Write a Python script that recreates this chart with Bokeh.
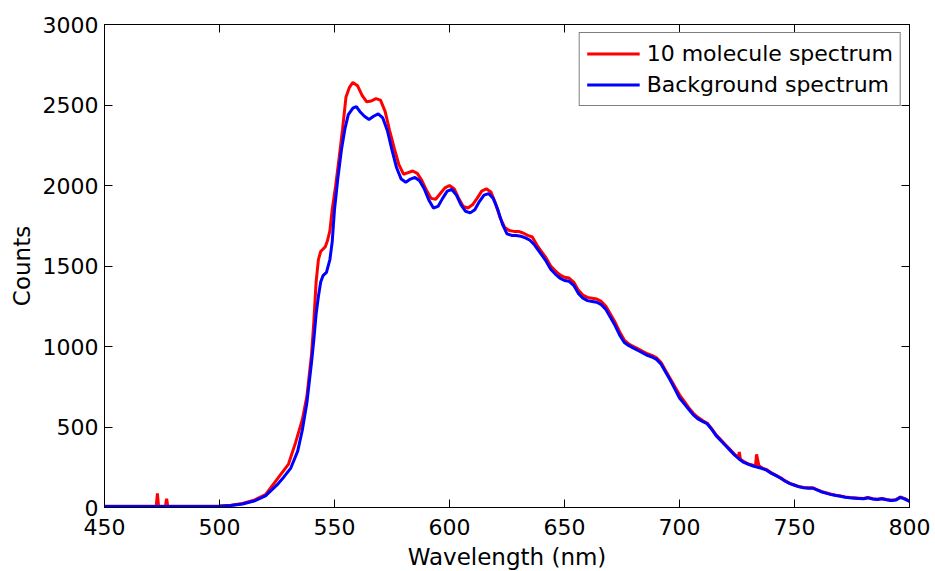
from bokeh.plotting import figure
from bokeh.models import Range1d, LinearAxis, FixedTicker, Legend, LegendItem, CustomJSTickFormatter
from bokeh.embed import file_html
from bokeh.resources import INLINE

# ---- data ----
wl_mol = [450, 460, 470, 472.5, 473, 473.5, 476.5, 477, 477.5, 490, 500, 505, 510, 515, 520, 525, 530,
          533, 536, 538, 540, 541, 542, 543, 544, 546, 547, 548, 549, 550.5, 552, 553.5, 555, 556.5,
          558, 560, 562, 564, 566, 568, 570, 572, 574, 576, 578, 580, 582, 584, 586, 588, 590, 592,
          594, 596, 598, 600, 602, 604, 606, 608, 610, 612, 614, 616, 618, 620, 622, 624, 626, 628,
          630, 632, 634, 636, 638, 640, 642, 644, 646, 648, 650, 652, 654, 656, 658, 660, 662, 664,
          666, 668, 670, 672, 674, 676, 678, 680, 682, 684, 686, 688, 690, 692, 694, 696, 698, 700,
          702, 704, 706, 708, 710, 712, 714, 716, 718, 720, 722, 724, 725.5, 726, 726.5, 728, 730,
          732, 733, 733.5, 734.5, 736, 738, 740, 742, 744, 746, 748, 750, 752, 754, 756, 758, 760,
          762, 764, 766, 768, 770, 772, 774, 776, 778, 780, 782, 784, 786, 788, 790, 792, 794, 796,
          798, 800]
counts_mol = [8, 8, 8, 8, 88, 8, 8, 55, 8, 8, 10, 14, 25, 45, 80, 175, 270,
              400, 545, 690, 950, 1150, 1400, 1540, 1590, 1620, 1660, 1720, 1850, 2000, 2170, 2350, 2550, 2610,
              2640, 2620, 2560, 2520, 2525, 2540, 2530, 2460, 2340, 2230, 2130, 2070, 2080, 2090, 2075, 2030, 1970, 1920,
              1915, 1950, 1985, 2000, 1980, 1920, 1870, 1860, 1880, 1920, 1965, 1980, 1960, 1890, 1800, 1740, 1720, 1715,
              1715, 1705, 1690, 1680, 1630, 1590, 1550, 1500, 1470, 1445, 1430, 1425, 1400, 1350, 1320, 1305, 1300, 1295,
              1280, 1250, 1200, 1150, 1090, 1040, 1015, 1000, 985, 970, 955, 945, 930, 900, 850, 800, 750, 700,
              660, 620, 585, 560, 540, 525, 490, 450, 420, 390, 360, 330, 310, 345, 300, 285, 270,
              262, 255, 330, 260, 245, 235, 215, 200, 185, 165, 150, 140, 130, 125, 122, 122, 110,
              98, 90, 82, 76, 72, 66, 62, 60, 58, 56, 62, 55, 52, 56, 50, 45, 48, 65,
              55, 40]

wl_bg = [450, 470, 490, 500, 505, 510, 515, 520, 525, 528, 531, 534, 536, 538, 540, 541, 542, 543, 544,
         545, 546.5, 548, 549, 550, 551.5, 553, 554.5, 556, 558, 559.5, 561, 563, 565, 567, 569, 571,
         573, 575, 577, 579, 581, 583, 585, 587, 589, 591, 593, 595, 597, 599, 601, 603, 605, 607,
         609, 611, 613, 615, 617, 619, 621, 623, 625, 627, 629, 631, 633, 635, 637, 640, 642, 644,
         646, 648, 650, 652, 654, 656, 658, 660, 662, 664, 666, 668, 670, 672, 674, 676, 678, 680,
         682, 684, 686, 688, 690, 692, 694, 696, 698, 700, 702, 704, 706, 708, 710, 712, 714, 716,
         718, 720, 722, 724, 726, 728, 730, 732, 734, 736, 738, 740, 742, 744, 746, 748, 750, 752,
         754, 756, 758, 760, 762, 764, 766, 768, 770, 772, 774, 776, 778, 780, 782, 784, 786, 788,
         790, 792, 794, 796, 798, 800]
counts_bg = [6, 6, 6, 8, 12, 22, 40, 72, 140, 190, 245, 350, 480, 650, 900, 1040, 1200, 1310, 1400,
             1440, 1460, 1540, 1650, 1850, 2050, 2220, 2350, 2440, 2480, 2490, 2460, 2430, 2410, 2430, 2445, 2420,
             2340, 2220, 2110, 2040, 2020, 2040, 2050, 2030, 1980, 1910, 1860, 1870, 1920, 1965, 1975, 1940, 1880, 1840,
             1830, 1850, 1900, 1940, 1950, 1920, 1850, 1760, 1700, 1690, 1690, 1685, 1675, 1660, 1630, 1570, 1530, 1480,
             1450, 1425, 1410, 1405, 1380, 1330, 1300, 1285, 1280, 1275, 1260, 1230, 1180, 1130, 1070, 1025, 1005, 990,
             975, 960, 945, 935, 920, 890, 840, 790, 735, 680, 645, 610, 575, 550, 535, 520, 485, 445,
             415, 385, 355, 325, 300, 280, 268, 258, 250, 242, 230, 212, 198, 182, 163, 148, 138, 128,
             123, 120, 120, 108, 96, 88, 80, 74, 70, 64, 60, 58, 56, 54, 60, 53, 50, 54,
             48, 43, 46, 63, 52, 38]

x_ticks = [450, 500, 550, 600, 650, 700, 750, 800]
y_ticks = [0, 500, 1000, 1500, 2000, 2500, 3000]
series_names = ["10 molecule spectrum", "Background spectrum"]

FONT = "DejaVu Sans"

p = figure(width=935, height=571, output_backend="svg", toolbar_location=None,
           x_range=Range1d(450, 800), y_range=Range1d(0, 3000),
           min_border_left=104, min_border_right=26, min_border_top=24, min_border_bottom=64,
           frame_width=805, frame_height=483)
p.background_fill_color = "white"
p.border_fill_color = "white"
p.outline_line_color = "black"
p.outline_line_width = 1
p.xgrid.visible = False
p.ygrid.visible = False

r1 = p.line(wl_mol, counts_mol, line_color="#ff0000", line_width=3)
r2 = p.line(wl_bg, counts_bg, line_color="#0000ff", line_width=3)

def style_axis(ax, labels=True):
    ax.axis_line_color = "black"
    ax.major_tick_line_color = "black"
    ax.major_tick_in = 8
    ax.major_tick_out = 0
    ax.minor_tick_line_color = None
    ax.major_label_text_font = FONT
    ax.major_label_text_font_size = "22px"
    ax.major_label_text_color = "black"
    ax.axis_label_text_font = FONT
    ax.axis_label_text_font_size = "23px"
    ax.axis_label_text_font_style = "normal"
    ax.axis_label_text_color = "black"
    if not labels:
        ax.formatter = CustomJSTickFormatter(code="return '';")
        ax.major_label_standoff = 0

xa = p.xaxis[0]
xa.ticker = FixedTicker(ticks=x_ticks)
xa.axis_label = "Wavelength (nm)"
style_axis(xa)
xa.major_label_standoff = 11
xa.axis_label_standoff = 6

ya = p.yaxis[0]
ya.ticker = FixedTicker(ticks=y_ticks)
ya.axis_label = "Counts"
style_axis(ya)
ya.major_label_standoff = 6
ya.axis_label_standoff = 5

top = LinearAxis(ticker=FixedTicker(ticks=x_ticks))
style_axis(top, labels=False)
p.add_layout(top, "above")
right = LinearAxis(ticker=FixedTicker(ticks=y_ticks))
style_axis(right, labels=False)
p.add_layout(right, "right")

legend = Legend(items=[LegendItem(label=series_names[0], renderers=[r1]),
                       LegendItem(label=series_names[1], renderers=[r2])],
                location="top_right")
legend.margin = 8
legend.padding = 7
legend.spacing = 4
legend.glyph_width = 53
legend.glyph_height = 27
legend.label_height = 27
legend.label_standoff = 7
legend.label_text_font = FONT
legend.label_text_font_size = "22px"
legend.label_text_color = "black"
legend.border_line_color = "black"
legend.border_line_width = 1
legend.background_fill_color = "white"
legend.background_fill_alpha = 1
p.add_layout(legend, "center")

open("out.html", "w").write(file_html(p, INLINE))
